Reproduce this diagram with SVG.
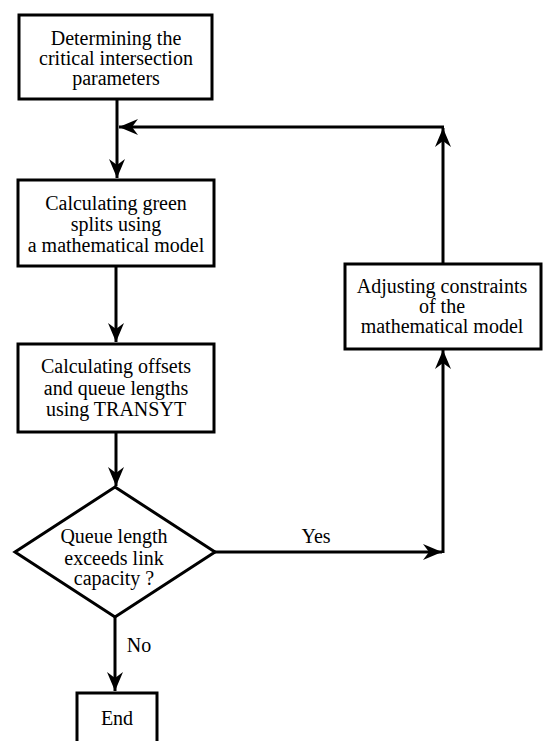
<svg xmlns="http://www.w3.org/2000/svg" width="545" height="741" viewBox="0 0 545 741">
<defs>
<marker id="ah" markerUnits="userSpaceOnUse" markerWidth="22" markerHeight="20" viewBox="-20 -10 22 20" refX="0" refY="0" orient="auto">
<path d="M0,0 L-19,-8 L-13,0 L-19,8 Z" fill="#000"/>
</marker>
</defs>
<style>
.box{fill:#fff;stroke:#000;stroke-width:3}
.t{font-family:"Liberation Serif","Times New Roman",serif;font-size:20px;fill:#000;text-anchor:middle}
.c{fill:none;stroke:#000;stroke-width:3}
</style>
<rect width="545" height="741" fill="#fff"/>
<g id="connectors">
<path class="c" d="M117,99 V178" marker-end="url(#ah)"/>
<path class="c" d="M443,264 V128" marker-end="url(#ah)"/>
<path class="c" d="M444,127 H119" marker-end="url(#ah)"/>
<path class="c" d="M116,266 V342" marker-end="url(#ah)"/>
<path class="c" d="M116,432 V486" marker-end="url(#ah)"/>
<path class="c" d="M215,552 H442" marker-end="url(#ah)"/>
<path class="c" d="M443,553 V350" marker-end="url(#ah)"/>
<path class="c" d="M115,617 V691" marker-end="url(#ah)"/>
<text class="t" x="139" y="652">No</text>
<text class="t" x="316" y="543">Yes</text>
</g>
<g id="n1">
<rect class="box" x="19" y="15" width="193" height="84"/>
<text class="t" x="116" y="45">Determining the</text>
<text class="t" x="116" y="65">critical intersection</text>
<text class="t" x="116" y="85">parameters</text>
</g>
<g id="n2">
<rect class="box" x="18" y="180" width="196" height="86"/>
<text class="t" x="116" y="210">Calculating green</text>
<text class="t" x="116" y="231">splits using</text>
<text class="t" x="116" y="252">a mathematical  model</text>
</g>
<g id="n3">
<rect class="box" x="18" y="344" width="196" height="88"/>
<text class="t" x="116" y="373">Calculating offsets</text>
<text class="t" x="116" y="395">and queue lengths</text>
<text class="t" x="116" y="416">using TRANSYT</text>
</g>
<g id="n4">
<polygon class="box" points="115,487 215,552 115,617 15,552"/>
<text class="t" x="114" y="543">Queue length</text>
<text class="t" x="114" y="565">exceeds link</text>
<text class="t" x="114" y="585">capacity ?</text>
</g>
<g id="n5">
<rect class="box" x="345" y="264" width="196" height="85"/>
<text class="t" x="442" y="293">Adjusting constraints</text>
<text class="t" x="442" y="313">of the</text>
<text class="t" x="442" y="333">mathematical model</text>
</g>
<g id="n6">
<rect class="box" x="77" y="693" width="80" height="52"/>
<text class="t" x="117" y="725">End</text>
</g>
</svg>
